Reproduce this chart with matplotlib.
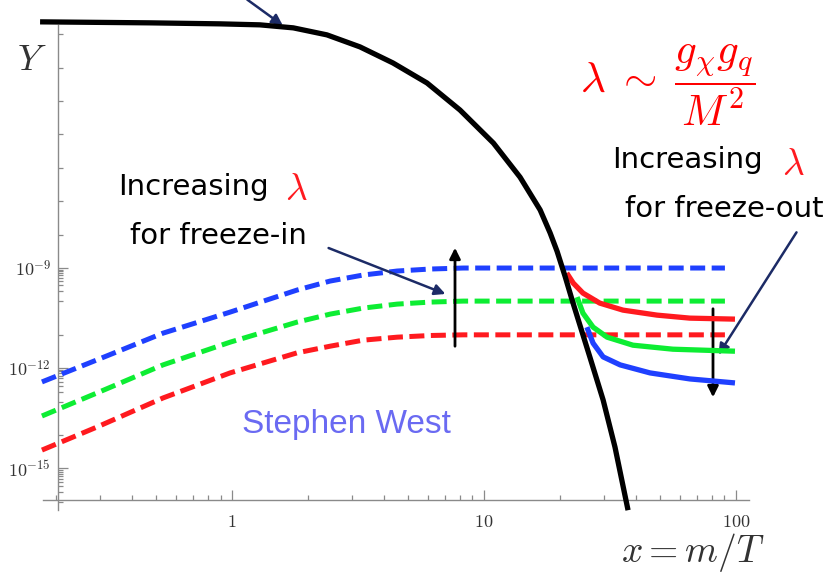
import numpy as np
import matplotlib.pyplot as plt
from matplotlib.ticker import FixedLocator, FixedFormatter, NullFormatter

plt.rcParams['mathtext.fontset'] = 'cm'

# equilibrium abundance (black)
eq_x = [0.173, 0.473, 0.895, 1.29, 1.75, 2.38, 3.22, 4.35, 5.94, 8.03, 10.9, 13.9, 16.7,
        18.3, 19.5, 20.96, 22.5, 26.3, 29.7, 33.1, 37.3]
eq_y = [10**-1.63, 10**-1.66, 10**-1.69, 10**-1.72, 10**-1.81, 10**-2.02, 10**-2.38, 10**-2.86,
        10**-3.46, 10**-4.27, 10**-5.26, 10**-6.28, 10**-7.26, 10**-7.95, 10**-8.5, 10**-9.24,
        10**-10.02, 10**-11.66, 10**-12.95, 10**-14.36, 10**-16.25]

# freeze-in (dashed)
fi_x = [0.176, 0.291, 0.532, 0.982, 1.81, 2.45, 3.31, 4.52, 6.11, 8.27, 90.4]
fi_blue = [10**-12.41, 10**-11.75, 10**-10.95, 10**-10.32, 10**-9.66, 10**-9.39, 10**-9.21,
           10**-9.09, 10**-9.03, 10**-9.0, 10**-9.0]
fi_green = [10**-13.43, 10**-12.74, 10**-11.90, 10**-11.22, 10**-10.62, 10**-10.38, 10**-10.20,
            10**-10.08, 10**-10.02, 10**-9.99, 10**-9.99]
fi_red = [10**-14.45, 10**-13.76, 10**-12.89, 10**-12.14, 10**-11.54, 10**-11.34, 10**-11.16,
          10**-11.07, 10**-11.02, 10**-11.0, 10**-11.0]

# freeze-out (solid)
fo_red_x = [21.3, 22.6, 24.7, 28.8, 35.6, 48.6, 65.6, 99.1]
fo_red = [10**-9.15, 10**-9.45, 10**-9.75, 10**-10.05, 10**-10.26, 10**-10.41, 10**-10.50, 10**-10.53]
fo_green_x = [23.4, 24.7, 27.1, 30.8, 39.0, 56.2, 99.1]
fo_green = [10**-9.87, 10**-10.35, 10**-10.77, 10**-11.07, 10**-11.31, 10**-11.43, 10**-11.49]
fo_blue_x = [25.6, 27.1, 29.7, 34.7, 45.6, 65.6, 99.1]
fo_blue = [10**-10.77, 10**-11.25, 10**-11.66, 10**-11.90, 10**-12.14, 10**-12.32, 10**-12.44]

blue = (0.12, 0.25, 1.0)
green = (0.05, 0.93, 0.2)
red = (1.0, 0.1, 0.12)
navy = '#1c2b66'

fig = plt.figure(figsize=(8.37, 5.73), dpi=100)
ax = fig.add_axes([0, 0, 1, 1])
ax.set_xscale('log')
ax.set_yscale('log')
ax.set_xlim(10**-0.921, 10**2.401)
ax.set_ylim(10**-18.13, 10**-0.976)

dash = (3.0, 1.3)
ax.plot(fi_x, fi_blue, color=blue, lw=3.6, dashes=dash, zorder=3)
ax.plot(fi_x, fi_green, color=green, lw=3.6, dashes=dash, zorder=3)
ax.plot(fi_x, fi_red, color=red, lw=3.6, dashes=dash, zorder=3)
ax.plot(fo_red_x, fo_red, color=red, lw=3.8, zorder=4, solid_capstyle='butt', solid_joinstyle='round')
ax.plot(fo_green_x, fo_green, color=green, lw=3.8, zorder=4, solid_capstyle='butt', solid_joinstyle='round')
ax.plot(fo_blue_x, fo_blue, color=blue, lw=3.8, zorder=4, solid_capstyle='butt', solid_joinstyle='round')
ax.plot(eq_x, eq_y, color='black', lw=3.8, zorder=5, solid_capstyle='butt', solid_joinstyle='round')

# axes in Mathematica style
for s in ['top', 'right']:
    ax.spines[s].set_visible(False)
ax.spines['left'].set_position(('data', 0.204))
ax.spines['bottom'].set_position(('data', 1.1e-16))
ax.spines['left'].set_bounds(10**-16.25, 10**-1.72)
ax.spines['bottom'].set_bounds(10**-0.75, 10**2.05)
for s in ['left', 'bottom']:
    ax.spines[s].set_color('#8a8a8a')
    ax.spines[s].set_linewidth(1.0)

xmaj = [1, 10, 100]
xmin = [k * 10.0**n for n in (-1, 0, 1) for k in range(2, 10) if 0.2 <= k * 10.0**n <= 100]
ax.xaxis.set_major_locator(FixedLocator(xmaj))
ax.xaxis.set_major_formatter(FixedFormatter([r'$1$', r'$10$', r'$100$']))
ax.xaxis.set_minor_locator(FixedLocator(xmin))
ax.xaxis.set_minor_formatter(NullFormatter())

ymaj = [1e-15, 1e-12, 1e-9]
ymin = [10.0**n for n in range(-16, -1) if n not in (-15, -12, -9)]
ymin += [k * 10.0**n for n in (-16, -13, -10) for k in range(2, 10)]
ax.yaxis.set_major_locator(FixedLocator(ymaj))
ax.yaxis.set_major_formatter(FixedFormatter([r'$10^{-15}$', r'$10^{-12}$', r'$10^{-9}$']))
ax.yaxis.set_minor_locator(FixedLocator(ymin))
ax.yaxis.set_minor_formatter(NullFormatter())

ax.tick_params(which='both', direction='in', colors='#8a8a8a', labelcolor='#333333', width=0.9)
ax.tick_params(which='major', length=7, labelsize=13)
ax.tick_params(which='minor', length=3.5)
ax.tick_params(axis='x', pad=9)
ax.tick_params(axis='y', pad=5)

# labels
fig.text(32 / 837, 1 - 60 / 573, r'$Y$', fontsize=26, ha='center', va='center', color='#333333')
fig.text(693 / 837, 1 - 553 / 573, r'$x = m/T$', fontsize=27, ha='center', va='center', color='#333333')
fig.text(668 / 837, 1 - 85 / 573, r'$\lambda\;\sim\;\dfrac{g_\chi g_q}{M^2}$', fontsize=31,
         ha='center', va='center', color='red')

fig.text(118 / 837, 1 - 187 / 573, 'Increasing', fontsize=21, ha='left', va='center', color='black')
fig.text(296 / 837, 1 - 190 / 573, r'$\lambda$', fontsize=27, ha='center', va='center', color=red)
fig.text(130 / 837, 1 - 236 / 573, 'for freeze-in', fontsize=21, ha='left', va='center', color='black')
fig.text(612 / 837, 1 - 160 / 573, 'Increasing', fontsize=21, ha='left', va='center', color='black')
fig.text(793 / 837, 1 - 165 / 573, r'$\lambda$', fontsize=27, ha='center', va='center', color=red)
fig.text(625 / 837, 1 - 209 / 573, 'for freeze-out', fontsize=21, ha='left', va='center', color='black')
fig.text(242 / 837, 1 - 425 / 573, 'Stephen West', fontsize=24, ha='left', va='center',
         color='#6a6af2', family='Liberation Sans')

def px(x, y):
    return (x / 837, 1 - y / 573)

arr_navy = dict(arrowstyle='-|>', color=navy, lw=1.8, mutation_scale=16)
ax.annotate('', xy=px(285, 27), xytext=px(245, -2), xycoords='figure fraction',
            textcoords='figure fraction', arrowprops=arr_navy)
ax.annotate('', xy=px(448, 295), xytext=px(326, 247), xycoords='figure fraction',
            textcoords='figure fraction', arrowprops=arr_navy)
ax.annotate('', xy=px(717, 357), xytext=px(798, 230), xycoords='figure fraction',
            textcoords='figure fraction', arrowprops=arr_navy)
arr_black = dict(arrowstyle='-|>', color='black', lw=2.0, mutation_scale=16)
ax.annotate('', xy=px(455, 245), xytext=px(455, 349), xycoords='figure fraction',
            textcoords='figure fraction', arrowprops=arr_black)
ax.annotate('', xy=px(713, 400), xytext=px(713, 306), xycoords='figure fraction',
            textcoords='figure fraction', arrowprops=arr_black)

plt.savefig('out.png', dpi=100)
